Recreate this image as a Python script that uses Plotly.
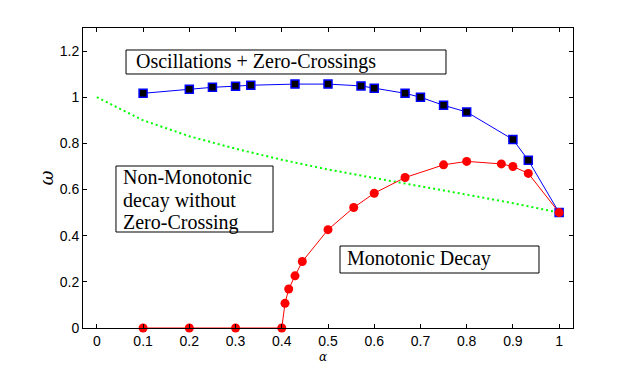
import plotly.graph_objects as go

# omega vs alpha for the three regimes
osc_alpha = [0.1, 0.2, 0.25, 0.3, 0.333, 0.4286, 0.5, 0.5714, 0.6, 0.6667,
             0.7, 0.75, 0.8, 0.9, 0.9333, 1.0]
osc_omega = [1.017, 1.035, 1.043, 1.048, 1.052, 1.057, 1.057, 1.049, 1.039,
             1.017, 1.0, 0.965, 0.936, 0.817, 0.727, 0.5]

mono_alpha = [0.1, 0.2, 0.3, 0.4, 0.407, 0.415, 0.4286, 0.4444, 0.5, 0.5556,
              0.6, 0.6667, 0.75, 0.8, 0.875, 0.9, 0.9333, 1.0]
mono_omega = [0.0, 0.0, 0.0, 0.0, 0.107, 0.169, 0.226, 0.288, 0.426, 0.522,
              0.584, 0.652, 0.707, 0.722, 0.711, 0.700, 0.670, 0.5]

bound_alpha = [0.0, 0.1, 0.2, 0.3, 0.4, 0.5, 0.6, 0.7, 0.8, 0.9, 1.0]
bound_omega = [1.0, 0.90, 0.831, 0.777, 0.729, 0.687, 0.650, 0.615, 0.578, 0.541, 0.5]

x_ticks = [0, 0.1, 0.2, 0.3, 0.4, 0.5, 0.6, 0.7, 0.8, 0.9, 1.0]
x_labels = ["0", "0.1", "0.2", "0.3", "0.4", "0.5", "0.6", "0.7", "0.8", "0.9", "1"]
y_ticks = [0, 0.2, 0.4, 0.6, 0.8, 1.0, 1.2]
y_labels = ["0", "0.2", "0.4", "0.6", "0.8", "1", "1.2"]

region_labels = ["Oscillations + Zero-Crossings",
                 "Non-Monotonic", "decay without", "Zero-Crossing",
                 "Monotonic Decay"]

fig = go.Figure()

fig.add_trace(go.Scatter(
    x=bound_alpha, y=bound_omega, mode="lines",
    line=dict(color="#00ff00", width=2, dash="2px,3px"),
    cliponaxis=False, showlegend=False,
))
fig.add_trace(go.Scatter(
    x=osc_alpha, y=osc_omega, mode="lines+markers",
    line=dict(color="#0000ff", width=1),
    marker=dict(symbol="square", size=8, color="black",
                line=dict(color="#0000ff", width=1.5)),
    cliponaxis=False, showlegend=False,
))
fig.add_trace(go.Scatter(
    x=mono_alpha, y=mono_omega, mode="lines+markers",
    line=dict(color="#ff0000", width=1),
    marker=dict(symbol="circle", size=9, color="#ff0000",
                line=dict(color="#ff0000", width=0)),
    cliponaxis=False, showlegend=False,
))

# region boxes (paper coords)
boxes = [(0.0878, 0.8467, 0.7408, 0.9267),
         (0.0673, 0.32, 0.3878, 0.54),
         (0.5245, 0.1833, 0.9306, 0.2733)]
for x0, y0, x1, y1 in boxes:
    fig.add_shape(type="rect", xref="paper", yref="paper",
                  x0=x0, y0=y0, x1=x1, y1=y1,
                  line=dict(color="black", width=1), fillcolor="white", layer="above")

serif = dict(family="Liberation Serif", size=20, color="black")
text_pos = [(0.104, 0.887), (0.0775, 0.503), (0.0775, 0.425),
            (0.0775, 0.352), (0.535, 0.233)]
for txt, (tx, ty) in zip(region_labels, text_pos):
    fig.add_annotation(text=txt, xref="paper", yref="paper", x=tx, y=ty,
                       xanchor="left", yanchor="middle", showarrow=False, font=serif)

fig.add_annotation(text="<i>α</i>", xref="paper", yref="paper", x=0.49, y=-0.097,
                   xanchor="center", yanchor="middle", showarrow=False,
                   font=dict(family="DejaVu Serif", size=12, color="black"))
fig.add_annotation(text="<i>ω</i>", xref="paper", yref="paper", x=-0.075, y=0.5,
                   xanchor="center", yanchor="middle", textangle=-90, showarrow=False,
                   font=dict(family="DejaVu Serif", size=18, color="black"))

axis_common = dict(
    showline=True, linecolor="black", linewidth=1, mirror="ticks",
    ticks="inside", ticklen=4, tickcolor="black", tickwidth=1,
    showgrid=False, zeroline=False,
    tickfont=dict(family="Liberation Sans", size=14, color="black"),
)
fig.update_xaxes(range=[-0.03, 1.03], tickvals=x_ticks, ticktext=x_labels, **axis_common)
fig.update_yaxes(range=[0, 1.3], tickvals=y_ticks, ticktext=y_labels, **axis_common)

# page body adds 8px offset, so trim left/top margins to match
fig.update_layout(
    width=625, height=361,
    margin=dict(l=75, r=60, t=20, b=41),
    paper_bgcolor="white", plot_bgcolor="white",
)

fig.write_html("out.html")
